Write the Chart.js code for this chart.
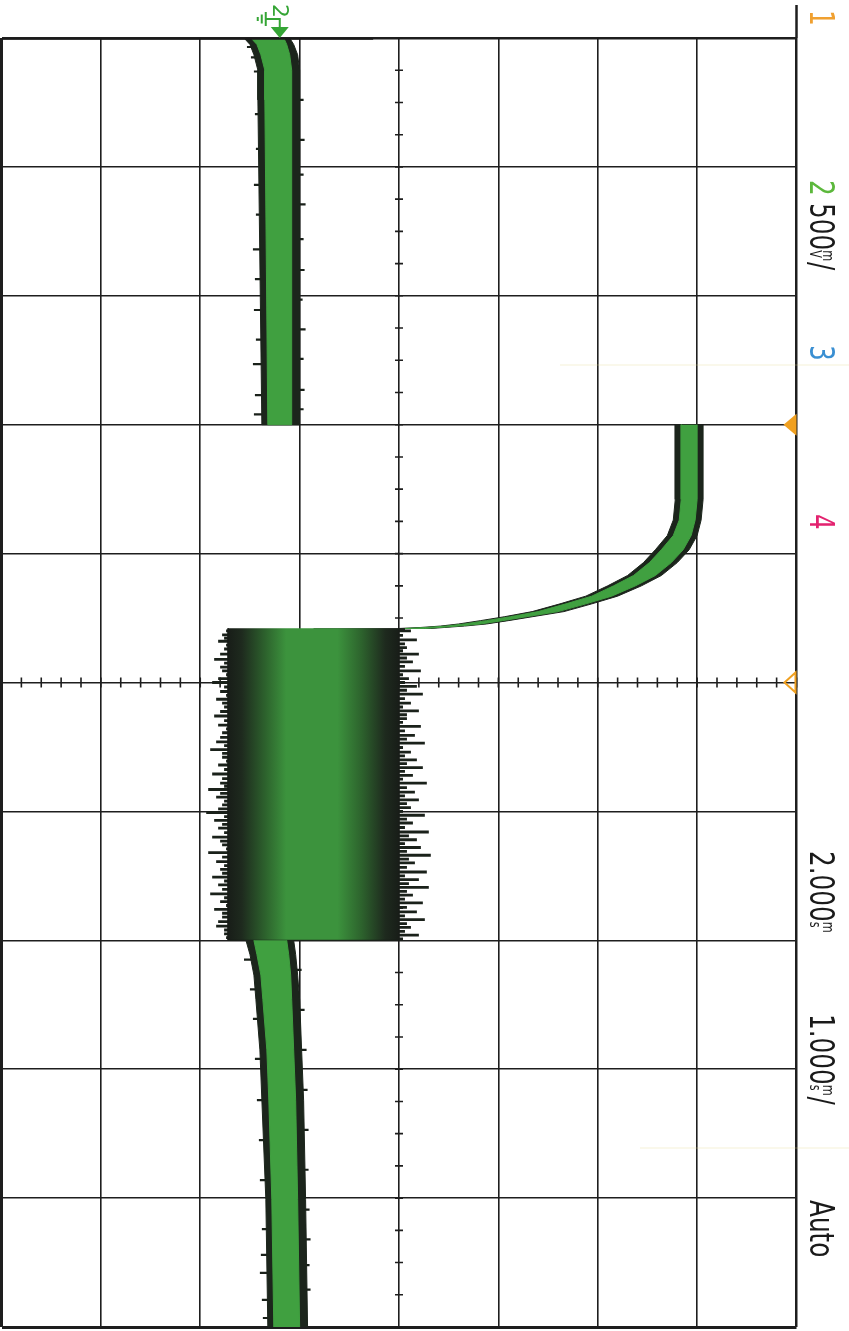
<!DOCTYPE html>
<html><head><meta charset="utf-8">
<script src="https://cdn.jsdelivr.net/npm/chart.js@4.4.1/dist/chart.umd.min.js"></script>
<style>html,body{margin:0;padding:0;background:#fff;}canvas{display:block;}</style>
</head><body>
<canvas id="c" width="849" height="1331"></canvas>
<script>
// ---------- axes (500 mV/div, 1 ms/div, delay 2 ms) ----------
const voltTicks = [-1.4, -0.9, -0.4, 0.1, 0.6, 1.1, 1.6, 2.1, 2.6];   // V (ground = 0)
const timeTicks = [-3, -2, -1, 0, 1, 2, 3, 4, 5, 6, 7];               // ms
const centerVolt = 0.6, centerTime = 2.0, triggerTime = 0.0;

// ---------- channel 2 trace envelope (time ms, min V, max V) ----------
// section 1 : before trigger, near ground
const sec1T      = [-3.0, -2.95, -2.87, -2.75, -2.52, 0.0];
const sec1Lo     = [-0.18, -0.15, -0.13, -0.11, -0.11, -0.09];
const sec1Hi     = [0.05, 0.07, 0.09, 0.10, 0.10, 0.10];
const sec1CoreLo = [-0.145, -0.115, -0.095, -0.075, -0.075, -0.06];
const sec1CoreHi = [0.02, 0.035, 0.05, 0.06, 0.06, 0.06];
// section 2 : step to ~2 V then accelerating decay
const sec2T      = [0.00, 0.58, 0.74, 0.86, 0.97, 1.07, 1.17, 1.25, 1.33, 1.39, 1.45, 1.49, 1.52, 1.546, 1.562, 1.573, 1.581];
const sec2Lo     = [1.99, 1.99, 1.98, 1.95, 1.89, 1.83, 1.75, 1.65, 1.54, 1.41, 1.27, 1.13, 1.01, 0.90, 0.81, 0.71, 0.60];
const sec2Hi     = [2.13, 2.13, 2.12, 2.10, 2.06, 2.00, 1.92, 1.82, 1.70, 1.57, 1.43, 1.27, 1.15, 1.04, 0.93, 0.83, 0.76];
const sec2CoreLo = [2.02, 2.02, 2.01, 1.98, 1.92, 1.86, 1.78, 1.68, 1.57, 1.44, 1.30, 1.16, 1.04, 0.93, 0.84, 0.74, 0.63];
const sec2CoreHi = [2.10, 2.10, 2.09, 2.07, 2.03, 1.97, 1.89, 1.79, 1.67, 1.54, 1.40, 1.24, 1.12, 1.01, 0.90, 0.80, 0.73];
// section 3 : noisy burst
const blockT  = [1.58, 4.0];
const blockLo = [-0.26, -0.26];
const blockHi = [0.60, 0.60];
// section 4 : back near ground, settling
const sec4T      = [4.0, 4.11, 4.27, 4.46, 4.85, 5.24, 6.01, 7.0];
const sec4Lo     = [-0.17, -0.15, -0.13, -0.12, -0.10, -0.09, -0.07, -0.06];
const sec4Hi     = [0.07, 0.08, 0.09, 0.10, 0.11, 0.12, 0.13, 0.14];
const sec4CoreLo = [-0.13, -0.115, -0.095, -0.085, -0.065, -0.055, -0.04, -0.03];
const sec4CoreHi = [0.035, 0.045, 0.055, 0.06, 0.07, 0.08, 0.09, 0.10];
// trace segment along the top edge (t = -3 ms)
const topTraceV = [-1.4, 0.47];

// ---------- noise spikes [time ms, peak V] ----------
const blockSpikesLeft = [[1.60,-0.27],[1.63,-0.29],[1.655,-0.28],[1.68,-0.31],[1.71,-0.27],[1.74,-0.28],[1.78,-0.30],[1.82,-0.33],[1.85,-0.28],[1.88,-0.30],[1.91,-0.29],[1.94,-0.27],[1.97,-0.31],[2.00,-0.34],[2.035,-0.28],[2.07,-0.30],[2.10,-0.27],[2.13,-0.32],[2.16,-0.29],[2.19,-0.28],[2.225,-0.30],[2.26,-0.33],[2.295,-0.28],[2.33,-0.31],[2.36,-0.27],[2.39,-0.29],[2.425,-0.30],[2.46,-0.32],[2.49,-0.28],[2.52,-0.35],[2.55,-0.29],[2.58,-0.29],[2.61,-0.27],[2.64,-0.31],[2.675,-0.28],[2.71,-0.34],[2.745,-0.29],[2.78,-0.30],[2.805,-0.28],[2.83,-0.36],[2.86,-0.30],[2.89,-0.32],[2.92,-0.28],[2.95,-0.29],[2.98,-0.31],[3.01,-0.37],[3.04,-0.28],[3.07,-0.33],[3.10,-0.29],[3.13,-0.31],[3.165,-0.28],[3.20,-0.34],[3.23,-0.30],[3.26,-0.29],[3.29,-0.27],[3.32,-0.36],[3.355,-0.29],[3.39,-0.32],[3.42,-0.28],[3.45,-0.30],[3.48,-0.29],[3.51,-0.34],[3.54,-0.28],[3.57,-0.31],[3.605,-0.29],[3.64,-0.35],[3.67,-0.28],[3.70,-0.30],[3.73,-0.27],[3.76,-0.33],[3.79,-0.29],[3.82,-0.29],[3.855,-0.31],[3.89,-0.32],[3.92,-0.28],[3.95,-0.28],[3.98,-0.27]];
const blockSpikesRight = [[1.59,0.63],[1.60,0.66],[1.635,0.62],[1.67,0.69],[1.70,0.63],[1.73,0.64],[1.755,0.62],[1.78,0.70],[1.81,0.64],[1.84,0.67],[1.875,0.63],[1.91,0.71],[1.94,0.62],[1.97,0.65],[2.00,0.63],[2.03,0.69],[2.06,0.64],[2.09,0.72],[2.125,0.63],[2.16,0.66],[2.19,0.62],[2.22,0.70],[2.25,0.64],[2.28,0.64],[2.31,0.62],[2.34,0.71],[2.375,0.63],[2.41,0.68],[2.44,0.64],[2.47,0.73],[2.505,0.62],[2.54,0.66],[2.57,0.63],[2.60,0.69],[2.63,0.64],[2.66,0.72],[2.69,0.63],[2.72,0.67],[2.75,0.62],[2.78,0.74],[2.815,0.64],[2.85,0.68],[2.88,0.63],[2.91,0.70],[2.94,0.64],[2.97,0.66],[3.00,0.62],[3.03,0.73],[3.06,0.64],[3.09,0.67],[3.125,0.63],[3.16,0.75],[3.19,0.65],[3.22,0.69],[3.25,0.63],[3.28,0.71],[3.31,0.64],[3.34,0.76],[3.37,0.65],[3.40,0.68],[3.435,0.64],[3.47,0.74],[3.50,0.63],[3.53,0.70],[3.56,0.65],[3.59,0.75],[3.62,0.64],[3.65,0.67],[3.68,0.63],[3.71,0.72],[3.745,0.64],[3.78,0.69],[3.81,0.63],[3.84,0.73],[3.87,0.64],[3.90,0.66],[3.93,0.63],[3.96,0.70],[3.99,0.62]];
const sec1SpikesLeft  = [[-2.93,-0.165],[-2.85,-0.145],[-2.74,-0.13],[-2.41,-0.125],[-2.14,-0.12],[-1.86,-0.13],[-1.63,-0.12],[-1.36,-0.135],[-1.13,-0.125],[-0.89,-0.13],[-0.66,-0.12],[-0.47,-0.135],[-0.23,-0.125],[-0.08,-0.13]];
const sec1SpikesRight = [[-2.52,0.12],[-2.21,0.125],[-1.94,0.12],[-1.71,0.13],[-1.44,0.12],[-1.20,0.125],[-0.97,0.115],[-0.74,0.13],[-0.51,0.12],[-0.27,0.125],[-0.12,0.12]];
const sec4SpikesLeft  = [[4.15,-0.18],[4.38,-0.15],[4.61,-0.135],[4.92,-0.125],[5.24,-0.115],[5.55,-0.105],[5.86,-0.10],[6.24,-0.09],[6.44,-0.095],[6.58,-0.10],[6.79,-0.09],[6.93,-0.085]];
const sec4SpikesRight = [[4.23,0.11],[4.54,0.125],[4.85,0.135],[5.16,0.14],[5.47,0.145],[5.78,0.145],[6.09,0.15],[6.32,0.155],[6.52,0.15],[6.71,0.155]];

// ---------- status line texts ----------
const chanLabels = ['1', '2', '3', '4'];
const vScaleText = ['500', 'm', 'V', '/'];
const delayText  = ['2.000', 'm', 's'];
const tScaleText = ['1.000', 'm', 's', '/'];
const modeText   = 'Auto';

// ---------- builders ----------
function poly(t, lo, hi) {
  const pts = t.map((tt, i) => ({x: lo[i], y: tt}));
  for (let i = t.length - 1; i >= 0; i--) pts.push({x: hi[i], y: t[i]});
  return pts;
}
function spikes(list, base) {
  const d = [];
  list.forEach(([t, v]) => { d.push({x: base, y: t}, {x: v, y: t}, {x: null, y: null}); });
  return d;
}
const OUT = '#1c251c', CORE = '#40a040', SPK = '#1a211a';
function band(data, color, order) {
  return {data, showLine: true, fill: 'shape', backgroundColor: color, borderColor: color,
          borderWidth: 1, pointRadius: 0, tension: 0, order};
}
function spikeSet(data, order, w) {
  return {data, showLine: true, fill: false, borderColor: SPK, borderWidth: w, borderCapStyle: 'butt',
          pointRadius: 0, spanGaps: false, order};
}
const blockFill = (c) => {
  const ch = c.chart;
  if (!ch.chartArea || !ch.scales.x) return '#2f6a2f';
  const xs = ch.scales.x;
  const g = ch.ctx.createLinearGradient(xs.getPixelForValue(blockLo[0]), 0, xs.getPixelForValue(blockHi[0]), 0);
  g.addColorStop(0, '#181d18'); g.addColorStop(0.08, '#1e2a1e'); g.addColorStop(0.22, '#2d632d');
  g.addColorStop(0.34, '#3c933d'); g.addColorStop(0.64, '#3c933d'); g.addColorStop(0.78, '#2d632d');
  g.addColorStop(0.92, '#1e2a1e'); g.addColorStop(1, '#181d18');
  return g;
};

const datasets = [
  spikeSet(spikes(blockSpikesLeft, 0.17), 9, 2.8),
  spikeSet(spikes(blockSpikesRight, 0.17), 9, 2.8),
  Object.assign(band(poly(blockT, blockLo, blockHi), '#2f6a2f', 8), {backgroundColor: blockFill, borderColor: '#181d18'}),
  spikeSet(spikes(sec1SpikesLeft, 0), 7, 2.2),
  spikeSet(spikes(sec1SpikesRight, 0), 7, 2.2),
  spikeSet(spikes(sec4SpikesLeft, 0), 7, 2.2),
  spikeSet(spikes(sec4SpikesRight, 0), 7, 2.2),
  band(poly(sec1T, sec1Lo, sec1Hi), OUT, 6),
  band(poly(sec2T, sec2Lo, sec2Hi), OUT, 6),
  band(poly(sec4T, sec4Lo, sec4Hi), OUT, 6),
  band(poly(sec1T, sec1CoreLo, sec1CoreHi), CORE, 5),
  band(poly(sec2T, sec2CoreLo, sec2CoreHi), CORE, 5),
  band(poly(sec4T, sec4CoreLo, sec4CoreHi), CORE, 5),
  {data: topTraceV.map(v => ({x: v, y: timeTicks[0]})), showLine: true, fill: false, borderColor: '#1a1a1a',
   borderWidth: 3.5, pointRadius: 0, order: 1}
];

// ---------- decorations ----------
function rotText(ctx, parts, bx, by, size, sx) {
  ctx.save();
  ctx.translate(bx, by); ctx.rotate(Math.PI / 2); ctx.scale(sx, 1);
  ctx.textBaseline = 'alphabetic'; ctx.textAlign = 'left';
  let cx = 0;
  for (const p of parts) {
    ctx.fillStyle = p.c || '#1a1a1a';
    if (p.sup !== undefined) {
      ctx.font = Math.round(size * 0.45) + 'px "DejaVu Sans"';
      ctx.fillText(p.sup, cx, -size * 0.38);
      ctx.fillText(p.sub, cx, 0);
      cx += Math.max(ctx.measureText(p.sup).width, ctx.measureText(p.sub).width) + 1;
    } else {
      ctx.font = size + 'px "DejaVu Sans"';
      ctx.fillText(p.t, cx, 0);
      cx += ctx.measureText(p.t).width;
    }
  }
  ctx.restore();
}
const GRID = '#1e1e1e';
const deco = {
  id: 'deco',
  beforeDatasetsDraw(chart) {
    const {ctx, scales: {x, y}} = chart;
    const cx = x.getPixelForValue(centerVolt), cy = y.getPixelForValue(centerTime);
    ctx.save(); ctx.strokeStyle = GRID; ctx.lineWidth = 1.6; ctx.beginPath();
    for (let k = 0; k <= (timeTicks.length - 1) * 4; k++) {
      const py = y.getPixelForValue(timeTicks[0] + k * 0.25);
      ctx.moveTo(cx - 4, py); ctx.lineTo(cx + 4, py);
    }
    for (let k = 0; k <= (voltTicks.length - 1) * 5; k++) {
      const px = x.getPixelForValue(voltTicks[0] + k * 0.1);
      ctx.moveTo(px, cy - 5); ctx.lineTo(px, cy + 5);
    }
    ctx.stroke(); ctx.restore();
  },
  afterDraw(chart) {
    const {ctx, scales: {x, y}, chartArea: a} = chart;
    ctx.save();
    // faint scan lines
    ctx.strokeStyle = 'rgba(225,215,140,0.35)'; ctx.lineWidth = 1;
    ctx.beginPath(); ctx.moveTo(560, 365); ctx.lineTo(849, 365); ctx.moveTo(640, 1148); ctx.lineTo(849, 1148); ctx.stroke();
    // right frame extension
    ctx.strokeStyle = GRID; ctx.lineWidth = 2.5;
    ctx.beginPath(); ctx.moveTo(a.right, 5); ctx.lineTo(a.right, a.top); ctx.stroke();
    // channel 2 ground marker
    const gx = x.getPixelForValue(0);
    ctx.fillStyle = '#35a535'; ctx.strokeStyle = '#35a535';
    ctx.beginPath(); ctx.moveTo(gx - 9, a.top - 11); ctx.lineTo(gx + 9, a.top - 11); ctx.lineTo(gx, a.top); ctx.closePath(); ctx.fill();
    ctx.lineWidth = 2; ctx.beginPath();
    ctx.moveTo(gx, a.top - 11); ctx.lineTo(gx, a.top - 19); ctx.lineTo(gx - 14, a.top - 19);
    ctx.moveTo(gx - 14, a.top - 26); ctx.lineTo(gx - 14, a.top - 12);
    ctx.moveTo(gx - 18, a.top - 23.5); ctx.lineTo(gx - 18, a.top - 14.5);
    ctx.moveTo(gx - 22, a.top - 21); ctx.lineTo(gx - 22, a.top - 17);
    ctx.stroke();
    rotText(ctx, [{t: chanLabels[1], c: '#35a535'}], gx - 7, 4, 22, 1);
    // trigger / reference markers on right edge
    ctx.fillStyle = '#f0a020'; ctx.strokeStyle = '#f0a020';
    const ty = y.getPixelForValue(triggerTime);
    ctx.beginPath(); ctx.moveTo(a.right - 13, ty); ctx.lineTo(a.right, ty - 11); ctx.lineTo(a.right, ty + 11); ctx.closePath(); ctx.fill();
    const ry = y.getPixelForValue(centerTime);
    ctx.lineWidth = 2;
    ctx.beginPath(); ctx.moveTo(a.right - 12, ry); ctx.lineTo(a.right - 1, ry - 10); ctx.lineTo(a.right - 1, ry + 10); ctx.closePath(); ctx.stroke();
    // status line (rotated)
    const BX = 810, S = 33, SX = 0.75;
    rotText(ctx, [{t: chanLabels[0], c: '#f0a030'}], BX, 10, S, SX);
    rotText(ctx, [{t: chanLabels[1], c: '#5cb83c'}], BX, 180, S, SX);
    rotText(ctx, [{t: vScaleText[0]}, {sup: vScaleText[1], sub: vScaleText[2]}, {t: vScaleText[3]}], BX, 203, S, SX);
    rotText(ctx, [{t: chanLabels[2], c: '#3a8fd2'}], BX, 345, S, SX);
    rotText(ctx, [{t: chanLabels[3], c: '#e3226f'}], BX, 514, S, SX);
    rotText(ctx, [{t: delayText[0]}, {sup: delayText[1], sub: delayText[2]}], BX, 851, S, SX);
    rotText(ctx, [{t: tScaleText[0]}, {sup: tScaleText[1], sub: tScaleText[2]}, {t: tScaleText[3]}], BX, 1014, S, SX);
    rotText(ctx, [{t: modeText}], BX, 1200, S, SX);
    ctx.restore();
  }
};

function edgeWidth(n, first, last) { return (c) => c.index === 0 ? first : (c.index === n - 1 ? last : 1.6); }

new Chart(document.getElementById('c'), {
  type: 'scatter',
  data: {datasets},
  options: {
    responsive: false, animation: false, events: [],
    layout: {padding: {left: 1.5, right: 52.5, top: 38, bottom: 4}},
    plugins: {legend: {display: false}, tooltip: {enabled: false}},
    scales: {
      x: {type: 'linear', min: voltTicks[0], max: voltTicks[voltTicks.length - 1],
          afterBuildTicks: s => { s.ticks = voltTicks.map(v => ({value: v})); },
          ticks: {display: false}, border: {display: false},
          grid: {drawTicks: false, color: GRID, lineWidth: edgeWidth(voltTicks.length, 3, 2.5)}},
      y: {type: 'linear', reverse: true, min: timeTicks[0], max: timeTicks[timeTicks.length - 1],
          afterBuildTicks: s => { s.ticks = timeTicks.map(v => ({value: v})); },
          ticks: {display: false}, border: {display: false},
          grid: {drawTicks: false, color: GRID, lineWidth: edgeWidth(timeTicks.length, 2.5, 3)}}
    }
  },
  plugins: [deco]
});
</script>
</body></html>
